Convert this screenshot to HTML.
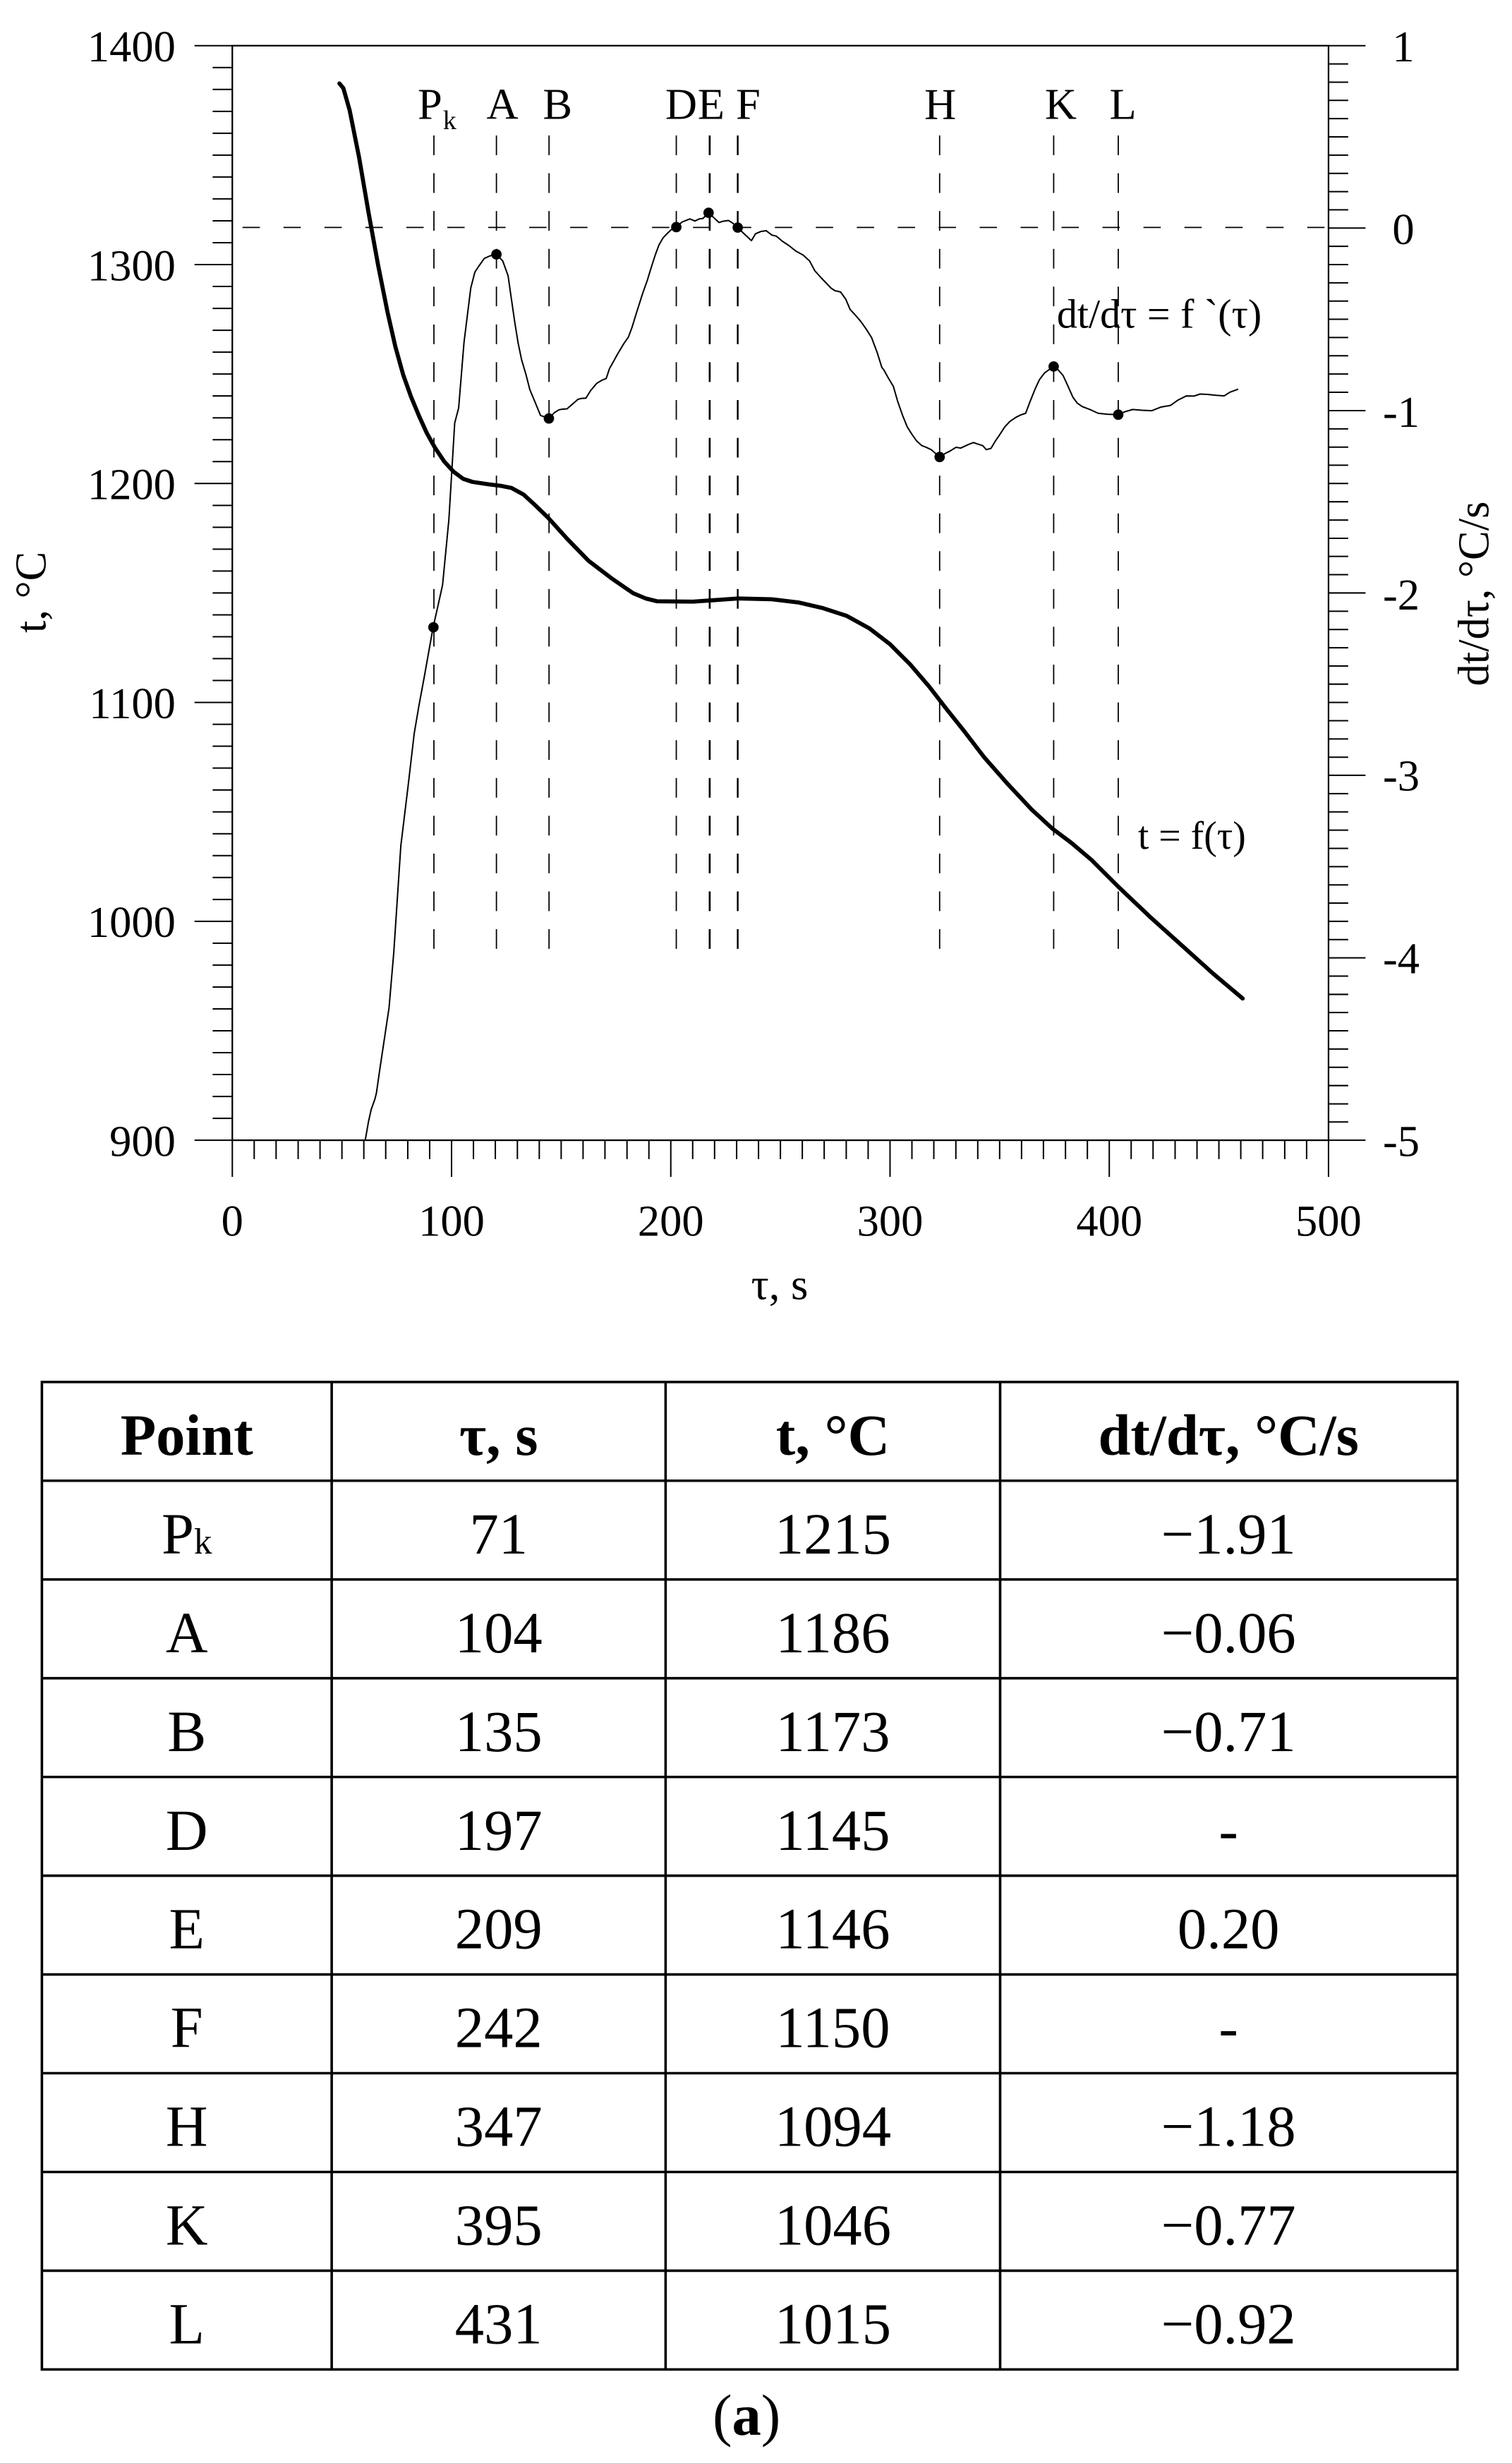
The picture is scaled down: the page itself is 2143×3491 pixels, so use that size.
<!DOCTYPE html>
<html><head><meta charset="utf-8"><style>
html,body{margin:0;padding:0;background:#fff;}
svg{display:block;}
</style></head><body>
<svg width="2143" height="3491" viewBox="0 0 960 1563.9" preserveAspectRatio="none" xmlns="http://www.w3.org/2000/svg" font-family="'Liberation Serif', serif">
<rect x="0" y="0" width="960" height="1563.9" fill="#fff"/>
<g stroke="#000" stroke-width="1" fill="none">
<rect x="147.5" y="29" width="696" height="695"/>
</g>
<line x1="154" y1="144.4" x2="843" y2="144.4" stroke="#000" stroke-width="0.8" stroke-dasharray="11,15"/>
<g stroke="#000" stroke-width="0.8" stroke-dasharray="12.5,11.5">
<line x1="275.5" y1="86" x2="275.5" y2="610"/>
<line x1="315.2" y1="86" x2="315.2" y2="610"/>
<line x1="348.6" y1="86" x2="348.6" y2="610"/>
<line x1="429.4" y1="86" x2="429.4" y2="610"/>
<line x1="450.6" y1="86" x2="450.6" y2="610" stroke-width="1.2"/>
<line x1="468.4" y1="86" x2="468.4" y2="610" stroke-width="1.1"/>
<line x1="596.6" y1="86" x2="596.6" y2="610"/>
<line x1="669" y1="86" x2="669" y2="610"/>
<line x1="710" y1="86" x2="710" y2="610"/>
</g>
<path fill="none" stroke="#000" stroke-width="2.6" stroke-linejoin="round" stroke-linecap="round" d="M215.5,53 L218,56 L222,70 L228,100 L234,135 L240,168 L246,198 L251,220 L256,238 L261,252 L266,264 L271,275 L276,284 L282,293 L288,299.5 L294,304 L300,306 L310,307.5 L318,308.5 L324.7,309.8 L332.4,314 L340,321 L347.9,328.6 L360,342 L373.6,356 L388,367 L401.9,376.6 L410,380 L417.3,381.8 L440,382 L468.7,380 L490,380.5 L507.3,382.6 L522,386 L537.7,391.1 L552,399 L565,409 L578,422 L590,436 L600,449 L612,464 L625,481 L640,498 L655,514 L668,526 L680,535 L693,546 L710,563 L730,582 L750,600 L770,618 L789,634"/>
<path fill="none" stroke="#000" stroke-width="0.9" stroke-linejoin="round" d="M231.9,724 L234,712 L235.7,704.4 L238,698 L239,694 L241,680 L244,660 L247,640 L250,605 L254.5,537 L259,500 L263,465.7 L266,448 L269.4,429.7 L275,398.3 L278,385 L281,371.4 L285,330 L288.7,268.6 L291.2,259.1 L294.6,217.5 L298.9,182.9 L301.5,172.8 L304,169 L307.5,164.1 L311,162.5 L315.2,161.5 L319.2,165.7 L322.6,175.1 L324,185 L326.9,205 L329,218 L331.2,228.5 L334,238 L336.4,247.4 L340,256 L343.2,263.8 L348.5,265.7 L352,262 L354.9,260.2 L357,259.8 L360,259.6 L363,257 L366.9,253.6 L369,253 L372,252.8 L375,248 L378.9,243.4 L382,241.5 L384.9,240.3 L387,234 L389.2,230.1 L392,225 L396,218.3 L399,214 L401.2,208.1 L404,199 L408.1,186.1 L411,178 L413.3,170.4 L416,162 L418.4,155.5 L421,151 L423.5,148.4 L426,146 L429.4,144.2 L433,141 L436,139.8 L438,139 L441.2,140.3 L444,139 L446.3,138.7 L449.9,135.1 L453,138 L456.5,141.3 L459,140.5 L462.5,140 L465,141.5 L468.4,144.5 L472,148 L477.1,152.8 L479.7,148.4 L483,147 L486.5,146.5 L490,149.2 L493,150 L496.8,153.2 L501,156 L505.4,159.5 L510,162 L514,165.7 L517.4,172 L521,176 L527.7,183 L530,184.5 L533.7,185.4 L537,190 L539.7,196.4 L543,200 L546.6,204.2 L550,209 L553.4,214.4 L557,224 L559.9,233.3 L561.2,234.9 L564,240 L567.2,245.3 L570,255 L573.2,264.1 L576,271 L579.2,276.1 L582,280 L585.2,282.9 L588,284 L591.2,285.5 L596.6,290.2 L600,288 L603.2,286.4 L607,284 L610,284.5 L615.2,282.1 L618,281 L621.2,282.1 L624,283 L626.2,285.5 L629.2,284.7 L632,280 L635.2,275.3 L638,271 L641.2,267.6 L645,265 L648,263.5 L651.2,262.4 L654,255 L657.2,247 L660,241 L663.2,236.8 L669,232.7 L672,235 L675,238.5 L678,245 L681.2,252.2 L684,256 L687.2,258.2 L692,260 L697.2,262.4 L703,263 L710,263.3 L714,261.5 L719.2,260 L725,260.5 L731.2,260.8 L737,258.5 L743.2,257.4 L748,254 L753.2,251.4 L758,251.5 L762,250.2 L767.2,250.5 L772,251 L777.2,251.4 L781,249 L786.2,247.1"/>
<g fill="#000">
<circle cx="275.2" cy="398.3" r="3.3"/>
<circle cx="315.2" cy="161.5" r="3.3"/>
<circle cx="348.5" cy="265.7" r="3.3"/>
<circle cx="429.4" cy="144.2" r="3.3"/>
<circle cx="449.9" cy="135.1" r="3.3"/>
<circle cx="468.4" cy="144.5" r="3.3"/>
<circle cx="596.6" cy="290.2" r="3.3"/>
<circle cx="669" cy="232.7" r="3.3"/>
<circle cx="710" cy="263.3" r="3.3"/>
</g>
<g font-size="28" fill="#000" text-anchor="middle">
<text x="273" y="75.4">P</text><text x="285.5" y="82" font-size="17">k</text>
<text x="319" y="75.4">A</text>
<text x="354" y="75.4">B</text>
<text x="432.5" y="75.4">D</text>
<text x="451.5" y="75.4">E</text>
<text x="475" y="75.4">F</text>
<text x="597" y="75.4">H</text>
<text x="673.5" y="75.4">K</text>
<text x="713" y="75.4">L</text>
</g>
<text x="671" y="208" font-size="26">dt/dτ = f `(τ)</text>
<text x="722.5" y="539" font-size="25">t = f(τ)</text>
<g font-size="28" fill="#000" text-anchor="end">
<text x="111.5" y="39">1400</text>
<text x="111.5" y="178">1300</text>
<text x="111.5" y="317">1200</text>
<text x="111.5" y="456">1100</text>
<text x="111.5" y="595">1000</text>
<text x="111.5" y="734">900</text>
</g>
<g font-size="28" fill="#000" text-anchor="start">
<text x="884" y="39">1</text>
<text x="884" y="155">0</text>
<text x="878" y="271">-1</text>
<text x="878" y="387">-2</text>
<text x="878" y="502">-3</text>
<text x="878" y="618">-4</text>
<text x="878" y="734">-5</text>
</g>
<g font-size="28" fill="#000" text-anchor="middle">
<text x="147.5" y="784.7">0</text>
<text x="286.7" y="784.7">100</text>
<text x="425.9" y="784.7">200</text>
<text x="565.1" y="784.7">300</text>
<text x="704.3" y="784.7">400</text>
<text x="843.5" y="784.7">500</text>
<text x="495" y="825">τ, s</text>
</g>
<text transform="translate(29,376) rotate(-90)" font-size="28" text-anchor="middle">t, °C</text>
<text transform="translate(945,377) rotate(-90)" font-size="28" text-anchor="middle">dt/dτ, °C/s</text>
<g stroke="#000" stroke-width="1.6" fill="none">
<rect x="26.6" y="877.5" width="898.8" height="627"/>
<line x1="210.6" y1="877.5" x2="210.6" y2="1504.5"/>
<line x1="422.6" y1="877.5" x2="422.6" y2="1504.5"/>
<line x1="635" y1="877.5" x2="635" y2="1504.5"/>
<line x1="26.6" y1="940.2" x2="925.4" y2="940.2"/>
<line x1="26.6" y1="1002.9" x2="925.4" y2="1002.9"/>
<line x1="26.6" y1="1065.6" x2="925.4" y2="1065.6"/>
<line x1="26.6" y1="1128.3" x2="925.4" y2="1128.3"/>
<line x1="26.6" y1="1191" x2="925.4" y2="1191"/>
<line x1="26.6" y1="1253.7" x2="925.4" y2="1253.7"/>
<line x1="26.6" y1="1316.4" x2="925.4" y2="1316.4"/>
<line x1="26.6" y1="1379.1" x2="925.4" y2="1379.1"/>
<line x1="26.6" y1="1441.8" x2="925.4" y2="1441.8"/>
</g>
<g font-size="37" fill="#000" text-anchor="middle">
<g font-weight="bold">
<text x="118.6" y="923.7">Point</text>
<text x="316.6" y="923.7">τ, s</text>
<text x="528.8" y="923.7">t, °C</text>
<text x="780" y="923.7">dt/dτ, °C/s</text>
</g>
<text x="118.6" y="986.4">P<tspan font-size="23">k</tspan></text><text x="316.6" y="986.4">71</text><text x="528.8" y="986.4">1215</text><text x="780" y="986.4">−1.91</text>
<text x="118.6" y="1049.1">A</text><text x="316.6" y="1049.1">104</text><text x="528.8" y="1049.1">1186</text><text x="780" y="1049.1">−0.06</text>
<text x="118.6" y="1111.8">B</text><text x="316.6" y="1111.8">135</text><text x="528.8" y="1111.8">1173</text><text x="780" y="1111.8">−0.71</text>
<text x="118.6" y="1174.5">D</text><text x="316.6" y="1174.5">197</text><text x="528.8" y="1174.5">1145</text><text x="780" y="1174.5">-</text>
<text x="118.6" y="1237.2">E</text><text x="316.6" y="1237.2">209</text><text x="528.8" y="1237.2">1146</text><text x="780" y="1237.2">0.20</text>
<text x="118.6" y="1299.9">F</text><text x="316.6" y="1299.9">242</text><text x="528.8" y="1299.9">1150</text><text x="780" y="1299.9">-</text>
<text x="118.6" y="1362.6">H</text><text x="316.6" y="1362.6">347</text><text x="528.8" y="1362.6">1094</text><text x="780" y="1362.6">−1.18</text>
<text x="118.6" y="1425.3">K</text><text x="316.6" y="1425.3">395</text><text x="528.8" y="1425.3">1046</text><text x="780" y="1425.3">−0.77</text>
<text x="118.6" y="1488">L</text><text x="316.6" y="1488">431</text><text x="528.8" y="1488">1015</text><text x="780" y="1488">−0.92</text>
<text x="474" y="1546">(<tspan font-weight="bold">a</tspan>)</text>
</g>
<path stroke="#000" stroke-width="0.9" fill="none" d="
M123.5,29H147.5 M123.5,168H147.5 M123.5,307H147.5 M123.5,446H147.5 M123.5,585H147.5 M123.5,724H147.5
M135,42.9H147.5 M135,56.8H147.5 M135,70.7H147.5 M135,84.6H147.5 M135,98.5H147.5 M135,112.4H147.5 M135,126.3H147.5 M135,140.2H147.5 M135,154.1H147.5
M135,181.9H147.5 M135,195.8H147.5 M135,209.7H147.5 M135,223.6H147.5 M135,237.5H147.5 M135,251.4H147.5 M135,265.3H147.5 M135,279.2H147.5 M135,293.1H147.5
M135,320.9H147.5 M135,334.8H147.5 M135,348.7H147.5 M135,362.6H147.5 M135,376.5H147.5 M135,390.4H147.5 M135,404.3H147.5 M135,418.2H147.5 M135,432.1H147.5
M135,459.9H147.5 M135,473.8H147.5 M135,487.7H147.5 M135,501.6H147.5 M135,515.5H147.5 M135,529.4H147.5 M135,543.3H147.5 M135,557.2H147.5 M135,571.1H147.5
M135,598.9H147.5 M135,612.8H147.5 M135,626.7H147.5 M135,640.6H147.5 M135,654.5H147.5 M135,668.4H147.5 M135,682.3H147.5 M135,696.2H147.5 M135,710.1H147.5
"/>
<g stroke="#000" stroke-width="0.9">
<path fill="none" d="M843.5,29H867 M843.5,144.8H867 M843.5,260.7H867 M843.5,376.5H867 M843.5,492.3H867 M843.5,608.2H867 M843.5,724H867
M843.5,40.6H856 M843.5,52.2H856 M843.5,63.7H856 M843.5,75.3H856 M843.5,86.9H856 M843.5,98.5H856 M843.5,110.1H856 M843.5,121.7H856 M843.5,133.2H856
M843.5,156.4H856 M843.5,168H856 M843.5,179.6H856 M843.5,191.2H856 M843.5,202.7H856 M843.5,214.3H856 M843.5,225.9H856 M843.5,237.5H856 M843.5,249.1H856
M843.5,272.3H856 M843.5,283.9H856 M843.5,295.4H856 M843.5,307H856 M843.5,318.6H856 M843.5,330.2H856 M843.5,341.8H856 M843.5,353.3H856 M843.5,364.9H856
M843.5,388.1H856 M843.5,399.7H856 M843.5,411.3H856 M843.5,422.9H856 M843.5,434.4H856 M843.5,446H856 M843.5,457.6H856 M843.5,469.2H856 M843.5,480.8H856
M843.5,503.9H856 M843.5,515.5H856 M843.5,527.1H856 M843.5,538.7H856 M843.5,550.3H856 M843.5,561.9H856 M843.5,573.4H856 M843.5,585H856 M843.5,596.6H856
M843.5,619.8H856 M843.5,631.4H856 M843.5,642.9H856 M843.5,654.5H856 M843.5,666.1H856 M843.5,677.7H856 M843.5,689.3H856 M843.5,700.9H856 M843.5,712.4H856"/>
<path fill="none" d="M147.5,724V747.3 M286.7,724V747.3 M425.9,724V747.3 M565.1,724V747.3 M704.3,724V747.3 M843.5,724V747.3
M161.4,724V736 M175.3,724V736 M189.3,724V736 M203.2,724V736 M217.1,724V736 M231,724V736 M244.9,724V736 M258.9,724V736 M272.8,724V736
M300.6,724V736 M314.5,724V736 M328.5,724V736 M342.4,724V736 M356.3,724V736 M370.2,724V736 M384.1,724V736 M398.1,724V736 M412,724V736
M439.8,724V736 M453.7,724V736 M467.7,724V736 M481.6,724V736 M495.5,724V736 M509.4,724V736 M523.3,724V736 M537.3,724V736 M551.2,724V736
M579,724V736 M592.9,724V736 M606.9,724V736 M620.8,724V736 M634.7,724V736 M648.6,724V736 M662.5,724V736 M676.5,724V736 M690.4,724V736
M718.2,724V736 M732.1,724V736 M746.1,724V736 M760,724V736 M773.9,724V736 M787.8,724V736 M801.7,724V736 M815.7,724V736 M829.6,724V736"/>
</g>
</svg>
</body></html>
